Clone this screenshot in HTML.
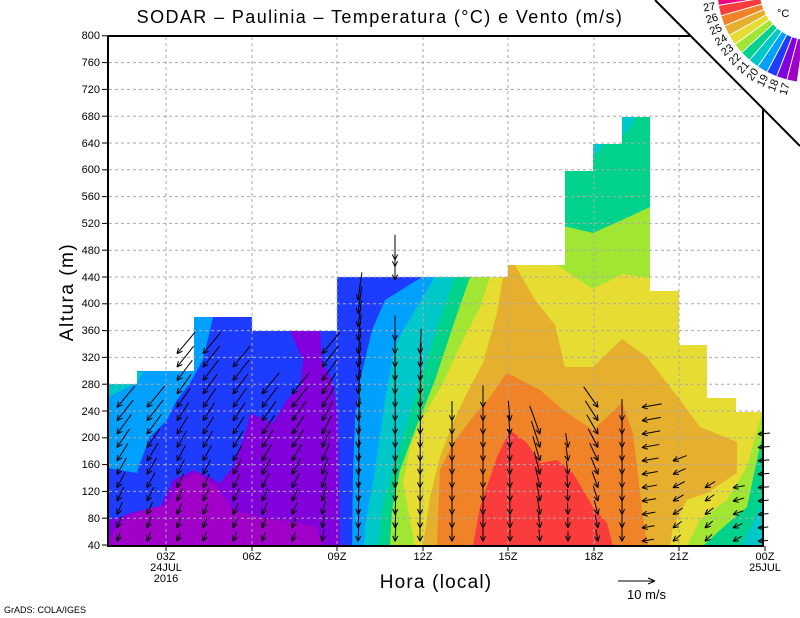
<!DOCTYPE html>
<html><head><meta charset="utf-8"><style>
html,body{margin:0;padding:0;background:#fff;width:800px;height:618px;overflow:hidden}
svg{display:block}
text{font-family:"Liberation Sans","DejaVu Sans",sans-serif;fill:#000}
</style></head><body>
<svg id="s" width="800" height="618" viewBox="0 0 800 618" xmlns="http://www.w3.org/2000/svg">
<defs>
<clipPath id="dc"><polygon points="108,384 137,384 137,371 194,371 194,317 252,317 252,331 337,331 337,277 508,277 508,265 565,265 565,171 593,171 593,144 622,144 622,117 650,117 650,291 679,291 679,345 707,345 707,398 736,398 736,412 763,412 763,546 108,546"/></clipPath>
</defs>
<g clip-path="url(#dc)">
<rect x="108" y="36" width="655" height="510" fill="#1e3cff"/>
<polygon fill="#00a0ff" points="422,36 422,277 385,300 372,330 360,380 355,420 353,470 352,546 763,546 763,36"/>
<polygon fill="#00c8c8" points="435,36 435,277 415,310 395,345 385,400 375,470 366,520 364,546 763,546 763,36"/>
<polygon fill="#00d28c" points="455,36 455,277 440,320 420,380 405,430 392,470 382,510 378,546 763,546 763,36"/>
<polygon fill="#a0e632" points="470,36 470,277 455,320 435,380 415,430 400,470 392,510 390,546 763,546 763,36"/>
<polygon fill="#e6dc32" points="490,36 490,277 480,307 463,340 443,383 423,417 410,447 403,483 410,520 415,546 763,546 763,36"/>
<polygon fill="#e6af2d" points="503,36 503,277 497,313 483,363 467,393 453,423 440,457 430,497 423,546 763,546 763,36"/>
<polygon fill="#e6dc32" points="515,36 515,265 535,300 555,325 565,367 593,367 622,339 647,357 680,400 700,427 737,442 737,473 707,493 687,500 673,527 670,546 763,546 763,36"/>
<polygon fill="#f08228" points="437,546 440,470 453,443 473,417 490,397 507,373 540,390 563,410 593,430 607,417 622,403 633,433 637,467 643,517 647,546"/>
<polygon fill="#fa3c3c" points="473,546 480,507 497,457 510,430 527,443 540,463 557,460 573,473 593,507 607,523 613,546"/>
<polygon fill="#a0e632" points="687,546 700,520 727,500 747,467 760,420 763,413 763,546"/>
<polygon fill="#00d28c" points="703,546 720,530 747,507 757,460 763,433 763,546"/>
<polygon fill="#00c8c8" points="740,546 753,523 763,500 763,546"/>
<polygon fill="#a0e632" points="557,36 557,265 593,289 622,274 650,278 650,36"/>
<polygon fill="#00d28c" points="557,36 557,226 564,226 593,233 622,220 650,207 650,36"/>
<polygon fill="#00c8c8" points="593,144 604,144 599,152 593,155"/>
<polygon fill="#00c8c8" points="622,117 637,117 629,129 622,136"/>
<polygon fill="#00a0ff" points="108,468 137,473 140,463 150,437 167,420 177,400 190,383 203,360 213,318 213,36 108,36"/>
<polygon fill="#00c8c8" points="108,385 137,372 143,372 137,383 108,397"/>
<polygon fill="#8200dc" points="108,520 120,517 133,512 160,507 173,480 193,470 210,477 220,483 233,467 247,427 250,413 273,423 287,400 300,387 303,360 290,331 320,331 322,360 333,383 338,417 340,546 108,546"/>
<polygon fill="#a000c8" points="108,546 113,533 127,517 150,508 167,505 180,480 197,473 217,487 233,510 263,518 300,523 317,527 323,546"/>
</g>
<g id="grid" stroke="#aaa" stroke-width="1" stroke-dasharray="3,3" fill="none"></g>
<g id="arr" stroke="#000" stroke-width="1" fill="none"></g>
<g stroke="#000" stroke-width="2" fill="none">
<line x1="108" y1="36" x2="108" y2="547"/>
<line x1="107" y1="546" x2="764" y2="546"/>
<line x1="108" y1="36" x2="700" y2="36"/>
<line x1="763" y1="100" x2="763" y2="547"/>
</g>
<g id="ticks" stroke="#000" stroke-width="1"></g>
<g id="yl" font-size="11" text-anchor="end">
<text x="100" y="549">40</text><text x="100" y="522">80</text><text x="100" y="495">120</text><text x="100" y="468">160</text><text x="100" y="441">200</text><text x="100" y="415">240</text><text x="100" y="388">280</text><text x="100" y="361">320</text><text x="100" y="334">360</text><text x="100" y="307">400</text><text x="100" y="281">440</text><text x="100" y="254">480</text><text x="100" y="227">520</text><text x="100" y="200">560</text><text x="100" y="173">600</text><text x="100" y="147">640</text><text x="100" y="120">680</text><text x="100" y="93">720</text><text x="100" y="66">760</text><text x="100" y="39">800</text>
</g>
<g font-size="11" text-anchor="middle">
<text x="166" y="560">03Z</text><text x="166" y="571">24JUL</text><text x="166" y="582">2016</text>
<text x="252" y="560">06Z</text><text x="337" y="560">09Z</text><text x="423" y="560">12Z</text><text x="508" y="560">15Z</text><text x="594" y="560">18Z</text><text x="679" y="560">21Z</text><text x="765" y="560">00Z</text><text x="765" y="571">25JUL</text>
</g>
<text x="380" y="23" font-size="18" letter-spacing="1.4" text-anchor="middle">SODAR – Paulinia – Temperatura (°C) e Vento (m/s)</text>
<text x="0" y="0" font-size="19" letter-spacing="1.5" text-anchor="middle" transform="translate(73,292) rotate(-90)">Altura (m)</text>
<text x="436" y="588" font-size="19" letter-spacing="1.2" text-anchor="middle">Hora (local)</text>
<text x="4" y="613" font-size="9">GrADS: COLA/IGES</text>
<g stroke="#000" stroke-width="1"><line x1="618" y1="581" x2="655" y2="581"/><line x1="655" y1="581" x2="648" y2="578"/><line x1="655" y1="581" x2="648" y2="584"/></g>
<text x="627" y="599" font-size="13">10 m/s</text>
<polygon points="655,0 800,0 800,146" fill="#fff"/>
<line x1="655" y1="0" x2="800" y2="146" stroke="#000" stroke-width="2"/>
<g transform="translate(810,-10)" stroke="#fff" stroke-width="1">
<g id="wedges"></g>
</g>
<g transform="translate(810,-10)" font-size="11" text-anchor="end">
<text transform="rotate(-9.3)" x="-96" y="4">27</text>
<text transform="rotate(-15.9)" x="-96" y="4">26</text>
<text transform="rotate(-22.5)" x="-96" y="4">25</text>
<text transform="rotate(-29.1)" x="-96" y="4">24</text>
<text transform="rotate(-35.7)" x="-96" y="4">23</text>
<text transform="rotate(-42.3)" x="-96" y="4">22</text>
<text transform="rotate(-48.9)" x="-96" y="4">21</text>
<text transform="rotate(-55.5)" x="-96" y="4">20</text>
<text transform="rotate(-62.1)" x="-96" y="4">19</text>
<text transform="rotate(-68.7)" x="-96" y="4">18</text>
<text transform="rotate(-75.3)" x="-96" y="4">17</text>
</g>
<text x="777" y="17" font-size="11">°C</text>
</svg>
<script>
(function(){
var NS="http://www.w3.org/2000/svg";
function el(p,t,a){var e=document.createElementNS(NS,t);for(var k in a)e.setAttribute(k,a[k]);p.appendChild(e);return e;}
var g=document.getElementById("grid");
for(var m=80;m<=760;m+=40){var y=545-(m-40)*0.67;el(g,"line",{x1:109,y1:y,x2:762,y2:y});}
var xs=[166,252,337,423,508,594,679];
xs.forEach(function(x){el(g,"line",{x1:x,y1:37,x2:x,y2:545});});
var t=document.getElementById("ticks");
for(var m=40;m<=800;m+=40){var y=545-(m-40)*0.67;el(t,"line",{x1:102,y1:y,x2:108,y2:y});}
xs.concat([765]).forEach(function(x){el(t,"line",{x1:x,y1:546,x2:x,y2:551});});
var w=document.getElementById("wedges");
var cols=["#a000c8","#8200dc","#1e3cff","#00a0ff","#00c8c8","#00d28c","#a0e632","#e6dc32","#e6af2d","#f08228","#fa3c3c","#f00082"];
for(var i=0;i<12;i++){var th=101.4+i*6.6;
el(w,"path",{d:"M49.9,-3.2 L92.8,-5.7 L92.8,5.7 L49.9,3.2 Z",fill:cols[i],transform:"rotate("+th+")"});}
var a=document.getElementById("arr");
function Y(m){return 545-(m-40)*0.67;}
function arrow(x,y,ang,L){var r=ang*Math.PI/180;var dx=-Math.sin(r),dy=Math.cos(r);
var tx=x-dx*L,ty=y-dy*L;el(a,"line",{x1:tx,y1:ty,x2:x,y2:y});
var h=6,s=0.45;for(var sg=-1;sg<=1;sg+=2){var c=Math.cos(sg*s),sn=Math.sin(sg*s);
var ux=-dx,uy=-dy;var rx=ux*c-uy*sn,ry=ux*sn+uy*c;el(a,"line",{x1:x,y1:y,x2:x+rx*h,y2:y+ry*h});}}
var C=[
[117,250,40,20,28,10],[147,250,40,20,28,10],[177,330,40,20,28,10],[203,330,40,20,28,10],
[233,320,40,22,28,10],[262,280,40,20,28,10],[292,280,40,20,28,10],[322,330,40,10,28,12],
[358,410,8,3,28,18],[395,360,0,3,25,18],[420,330,3,0,25,18],[452,240,0,0,20,14],
[483,250,0,0,22,14],[510,230,-5,0,20,12],[540,210,-20,-5,30,12],[568,200,-10,0,15,10],
[598,250,-35,-10,25,12],[622,240,0,0,22,14],[642,250,80,80,20,12],[673,180,70,50,15,10],
[705,140,60,45,12,10],[733,130,80,60,12,10],[758,210,85,85,12,10]];
C.forEach(function(c){for(var m=50;m<=c[1];m+=20){var f=(m-50)/Math.max(1,c[1]-50);
var ang=c[3]+(c[2]-c[3])*f,L=c[5]+(c[4]-c[5])*f;arrow(c[0],Y(m)+3,ang,L);}});
[440,460,470].forEach(function(m){arrow(395,Y(m)+3,0,25);});
})();
</script>
</body></html>
